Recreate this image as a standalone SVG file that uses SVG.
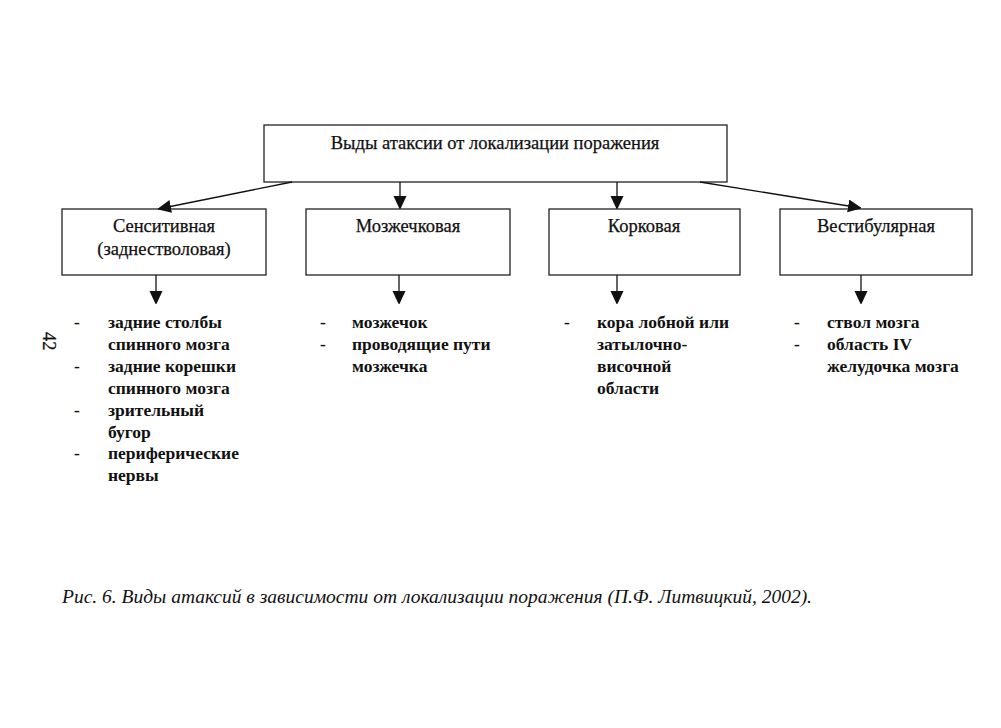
<svg xmlns="http://www.w3.org/2000/svg" width="1001" height="728" viewBox="0 0 1001 728">
<defs>
<marker id="ah" markerWidth="12" markerHeight="14" refX="13" refY="6.5" orient="auto" markerUnits="userSpaceOnUse">
<path d="M0,0 L14,6.5 L0,13 Z" fill="#111"/>
</marker>
<style>
.box{fill:#fff;stroke:#222;stroke-width:1.3}
.t{font-family:"Liberation Serif","Times New Roman",serif;font-size:18.5px;fill:#111;stroke:#111;stroke-width:0.25}
.li{font-family:"Liberation Serif","Times New Roman",serif;font-size:17.5px;font-weight:bold;fill:#111}
.c{stroke:#111;stroke-width:1.3;fill:none;marker-end:url(#ah)}
.cap{font-family:"Liberation Serif","Times New Roman",serif;font-size:18px;font-style:italic;fill:#111}
</style>
</defs>
<rect width="1001" height="728" fill="#fff"/>
<g id="top">
<rect class="box" x="264" y="125" width="463" height="57"/>
<text class="t" x="495" y="149" text-anchor="middle">Выды атаксии от локализации поражения</text>
</g>
<g id="n1">
<rect class="box" x="62" y="209" width="204" height="66"/>
<text class="t" x="164" y="232" text-anchor="middle">Сенситивная</text>
<text class="t" x="164" y="255" text-anchor="middle">(заднестволовая)</text>
</g>
<g id="n2">
<rect class="box" x="306" y="209" width="204" height="66"/>
<text class="t" x="408" y="232" text-anchor="middle">Мозжечковая</text>
</g>
<g id="n3">
<rect class="box" x="549" y="209" width="191" height="66"/>
<text class="t" x="644" y="232" text-anchor="middle">Корковая</text>
</g>
<g id="n4">
<rect class="box" x="780" y="209" width="192" height="66"/>
<text class="t" x="876" y="232" text-anchor="middle">Вестибулярная</text>
</g>
<g id="connectors">
<line class="c" x1="292" y1="182" x2="158" y2="209"/>
<line class="c" x1="400" y1="182" x2="400" y2="209"/>
<line class="c" x1="617" y1="182" x2="617" y2="209"/>
<line class="c" x1="700" y1="182" x2="861" y2="208"/>
<line class="c" x1="156" y1="275" x2="156" y2="304"/>
<line class="c" x1="399" y1="275" x2="399" y2="304"/>
<line class="c" x1="617" y1="275" x2="617" y2="304"/>
<line class="c" x1="861" y1="275" x2="861" y2="304"/>
</g>
<g id="list1" class="li">
<text x="74" y="328">-</text><text x="108" y="328">задние столбы</text>
<text x="108" y="350">спинного мозга</text>
<text x="74" y="372">-</text><text x="108" y="372">задние корешки</text>
<text x="108" y="394">спинного мозга</text>
<text x="74" y="416">-</text><text x="108" y="416">зрительный</text>
<text x="108" y="438">бугор</text>
<text x="74" y="459">-</text><text x="108" y="459">периферические</text>
<text x="108" y="481">нервы</text>
</g>
<g id="list2" class="li">
<text x="320" y="328">-</text><text x="352" y="328">мозжечок</text>
<text x="320" y="350">-</text><text x="352" y="350">проводящие пути</text>
<text x="352" y="372">мозжечка</text>
</g>
<g id="list3" class="li">
<text x="564" y="328">-</text><text x="597" y="328">кора лобной или</text>
<text x="597" y="350">затылочно-</text>
<text x="597" y="372">височной</text>
<text x="597" y="394">области</text>
</g>
<g id="list4" class="li">
<text x="794" y="328">-</text><text x="827" y="328">ствол мозга</text>
<text x="794" y="350">-</text><text x="827" y="350">область IV</text>
<text x="827" y="372">желудочка мозга</text>
</g>
<text class="t" x="0" y="0" transform="translate(43,332) rotate(90)">42</text>
<text class="cap" x="62" y="603" textLength="750" lengthAdjust="spacingAndGlyphs">Рис. 6. Виды атаксий в зависимости от локализации поражения (П.Ф. Литвицкий, 2002).</text>
</svg>
